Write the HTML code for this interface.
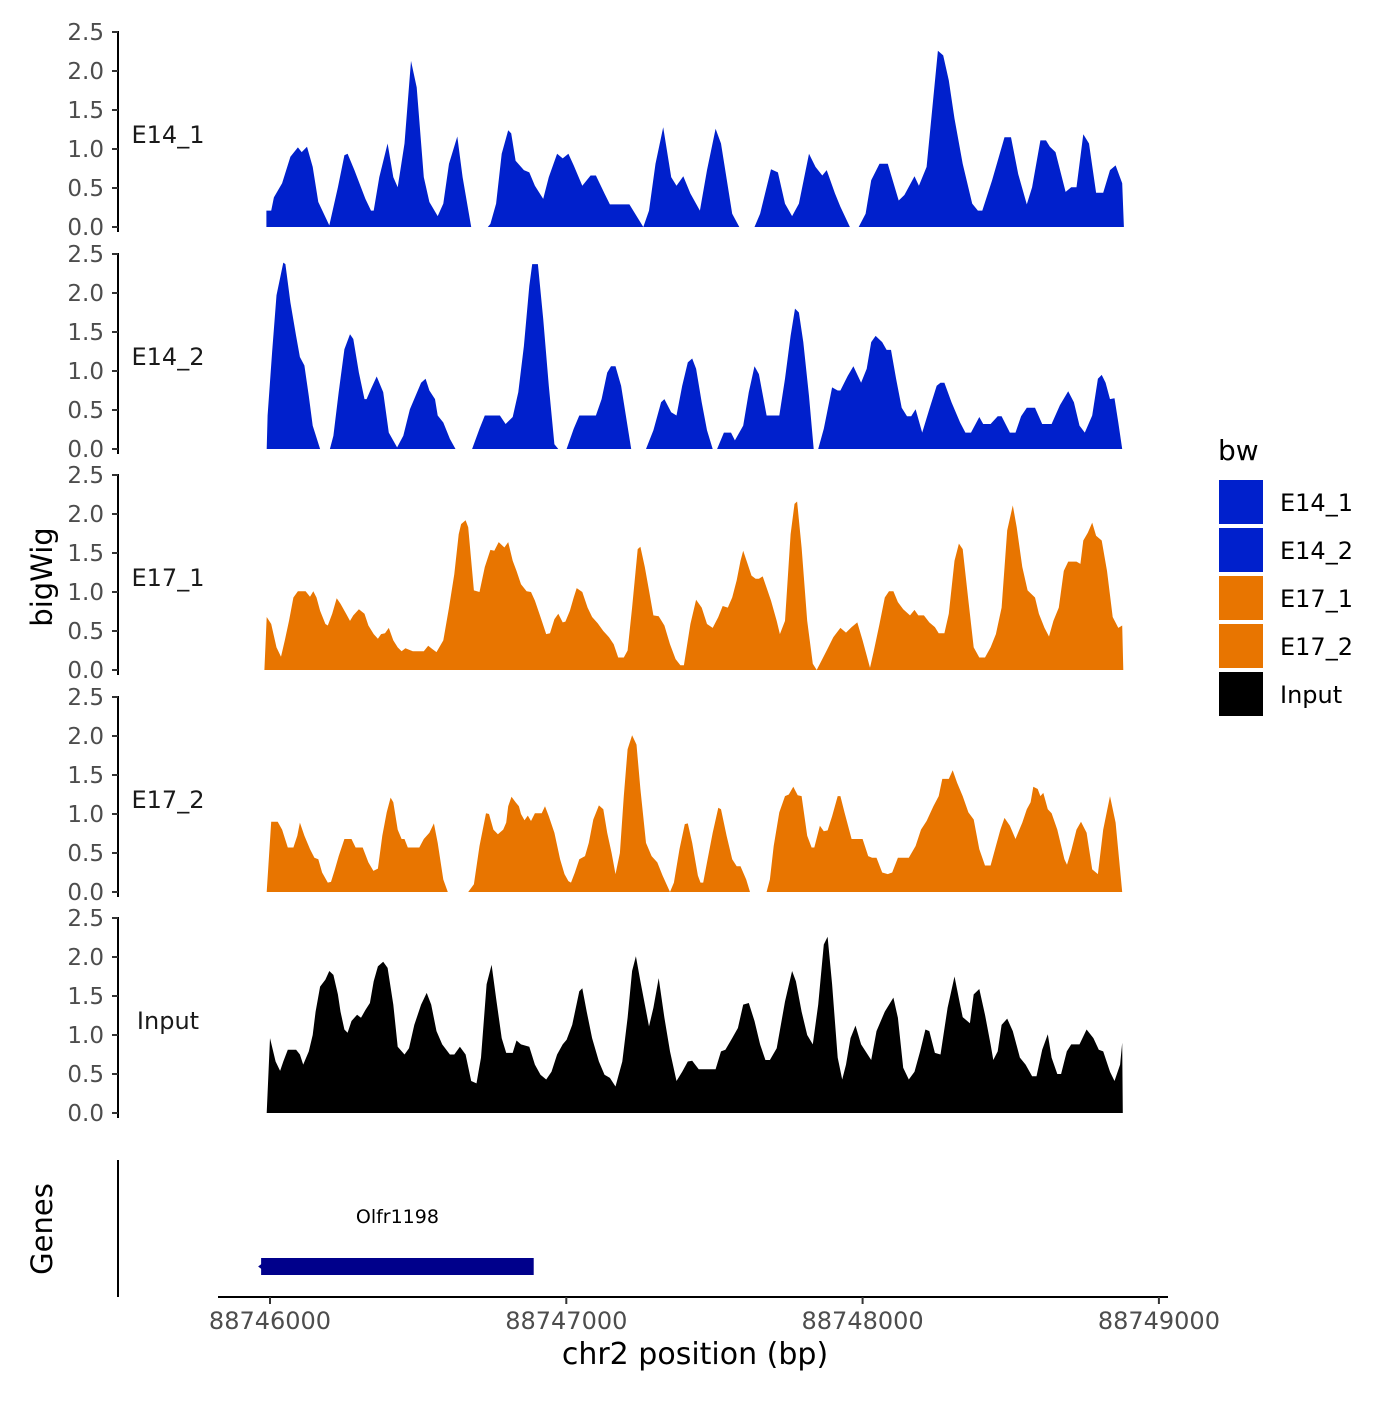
<!DOCTYPE html>
<html><head><meta charset="utf-8"><style>
body{margin:0;background:#fff}
svg text{font-family:"DejaVu Sans","Liberation Sans",sans-serif}
</style></head><body>
<svg id="chart" width="1400" height="1400" viewBox="0 0 1400 1400" xmlns="http://www.w3.org/2000/svg">
<g id="tracks"></g>
<g id="axes"></g>
<text x="0" y="0" transform="translate(52,577) rotate(-90)" text-anchor="middle" font-size="29" fill="#000">bigWig</text>
<text x="0" y="0" transform="translate(52,1229) rotate(-90)" text-anchor="middle" font-size="29" fill="#000">Genes</text>
<line x1="118" y1="1160" x2="118" y2="1297" stroke="#000" stroke-width="2"/>
<g id="genes"></g>
<line x1="218" y1="1297" x2="1168" y2="1297" stroke="#000" stroke-width="2"/>
<g id="xticks"></g>
<text x="695" y="1364" text-anchor="middle" font-size="30" fill="#000">chr2 position (bp)</text>
<text x="1218" y="460" font-size="28" fill="#000">bw</text>
<g id="legend"></g>
</svg>
<script>
const BASE = 88746000;
const trackNames = ["E14_1","E14_2","E17_1","E17_2","Input"];
const trackColors = ["#0020CC","#0020CC","#E87500","#E87500","#000000"];
const yTicks = [0,0.5,1,1.5,2,2.5];
const yTickLabels = ["0.0","0.5","1.0","1.5","2.0","2.5"];
const xTicks = [88746000,88747000,88748000,88749000];
const geneNames = ["Olfr1198"];
const geneStarts = [88745970];
const geneEnds = [88746890];

const posE14_1 = [-12,-12,4,13,41,69,94,107,125,144,163,200,229,251,262,285,322,341,350,369,397,416,431,454,476,495,519,538,566,585,604,632,650,679,690,735,744,763,782,804,814,829,857,875,894,922,941,969,988,1007,1025,1054,1082,1100,1129,1147,1213,1260,1279,1301,1327,1354,1372,1395,1419,1451,1475,1504,1522,1560,1584,1600,1635,1654,1691,1714,1738,1762,1785,1819,1841,1864,1879,1907,1925,1957,1970,1987,2010,2029,2057,2085,2122,2141,2175,2190,2216,2254,2272,2291,2310,2338,2370,2389,2404,2437,2479,2501,2525,2554,2572,2600,2619,2632,2651,2685,2704,2722,2745,2764,2788,2812,2835,2854,2876,2882];
const valE14_1 = [0,0.21,0.21,0.38,0.56,0.9,1.02,0.96,1.03,0.77,0.32,0.02,0.51,0.92,0.94,0.73,0.36,0.21,0.21,0.64,1.07,0.64,0.51,1.07,2.13,1.79,0.64,0.32,0.14,0.3,0.81,1.16,0.64,0,null,0,0.04,0.3,0.94,1.24,1.2,0.85,0.73,0.7,0.53,0.36,0.64,0.94,0.88,0.94,0.79,0.53,0.66,0.66,0.43,0.29,0.29,0,0.21,0.81,1.28,0.64,0.53,0.65,0.43,0.21,0.73,1.26,1.07,0.17,0,null,0,0.17,0.74,0.7,0.3,0.14,0.3,0.94,0.77,0.66,0.73,0.43,0.26,0,null,0,0.17,0.6,0.81,0.81,0.34,0.41,0.65,0.53,0.77,2.26,2.2,1.88,1.39,0.81,0.3,0.21,0.21,0.6,1.15,1.15,0.68,0.29,0.51,1.11,1.11,1.03,0.96,0.45,0.51,0.51,1.19,1.07,0.44,0.44,0.73,0.79,0.56,0];

const posE14_2 = [-11,-8,7,22,45,52,69,88,101,116,131,144,169,190,202,214,232,251,270,281,300,319,326,341,360,382,401,429,450,472,491,510,525,538,557,566,585,607,626,650,682,707,725,776,795,819,838,857,875,885,904,922,941,960,973,990,1001,1025,1044,1100,1119,1138,1151,1166,1185,1219,1240,1269,1294,1320,1331,1354,1372,1391,1410,1425,1438,1457,1475,1494,1500,1509,1532,1556,1569,1597,1616,1635,1650,1676,1719,1738,1757,1772,1785,1800,1819,1835,1842,1850,1869,1897,1916,1925,1950,1969,1995,2014,2029,2044,2066,2081,2096,2113,2132,2150,2164,2179,2201,2225,2250,2263,2276,2300,2329,2347,2366,2394,2407,2432,2456,2469,2497,2516,2535,2554,2582,2606,2638,2666,2694,2713,2732,2750,2775,2794,2807,2820,2835,2850,2863,2876];
const valE14_2 = [0,0.43,1.24,1.97,2.39,2.37,1.88,1.45,1.18,1.07,0.68,0.3,0,null,0,0.17,0.73,1.28,1.47,1.41,0.98,0.64,0.64,0.77,0.93,0.73,0.21,0.02,0.17,0.51,0.68,0.85,0.9,0.75,0.64,0.43,0.34,0.13,0,null,0,0.26,0.43,0.43,0.32,0.41,0.73,1.32,2.09,2.37,2.37,1.67,0.81,0.06,0,null,0,0.26,0.43,0.43,0.64,0.98,1.06,1.06,0.81,0,null,0,0.24,0.6,0.64,0.47,0.43,0.81,1.11,1.16,1.03,0.6,0.24,0,null,0,0.21,0.21,0.11,0.3,0.73,1.06,0.96,0.43,0.43,0.9,1.45,1.8,1.75,1.37,0.68,0,null,0,0.26,0.79,0.75,0.75,0.94,1.06,0.85,1.03,1.37,1.45,1.37,1.27,1.27,0.9,0.53,0.42,0.42,0.51,0.21,0.51,0.81,0.85,0.85,0.6,0.34,0.21,0.21,0.41,0.32,0.32,0.42,0.42,0.21,0.21,0.42,0.53,0.53,0.32,0.32,0.56,0.74,0.6,0.3,0.21,0.43,0.9,0.95,0.85,0.64,0.65,0.34,0];

const posE17_1 = [-19,-11,4,22,37,50,64,79,94,120,135,146,157,169,187,195,210,225,238,257,270,281,300,319,332,350,364,375,388,401,416,431,444,457,482,519,534,547,562,585,604,622,637,645,660,669,688,707,725,744,757,772,791,804,819,832,847,866,881,894,913,932,945,960,973,988,997,1012,1025,1035,1054,1072,1087,1106,1125,1144,1160,1175,1194,1207,1222,1241,1250,1265,1279,1294,1312,1331,1350,1369,1385,1397,1419,1438,1457,1475,1494,1513,1528,1545,1560,1575,1588,1597,1612,1625,1639,1650,1663,1672,1691,1710,1721,1738,1757,1770,1779,1794,1813,1832,1845,1864,1879,1901,1925,1944,1963,1982,2000,2025,2038,2057,2075,2089,2104,2119,2137,2160,2175,2188,2207,2225,2244,2257,2276,2291,2310,2325,2338,2357,2375,2394,2413,2432,2450,2469,2488,2507,2520,2539,2557,2582,2595,2614,2629,2644,2662,2679,2694,2722,2735,2745,2760,2775,2788,2807,2825,2844,2863,2876,2880];
const valE17_1 = [0,0.68,0.59,0.29,0.17,0.38,0.63,0.93,1.01,1.01,0.94,1.01,0.93,0.76,0.59,0.57,0.72,0.92,0.85,0.72,0.63,0.7,0.78,0.72,0.57,0.46,0.4,0.46,0.47,0.54,0.38,0.29,0.24,0.28,0.24,0.24,0.31,0.27,0.23,0.38,0.8,1.23,1.74,1.87,1.92,1.83,1.02,1.0,1.32,1.54,1.53,1.64,1.57,1.64,1.4,1.27,1.1,1.01,1.0,0.89,0.68,0.46,0.47,0.65,0.72,0.61,0.62,0.76,0.93,1.05,1.0,0.8,0.68,0.6,0.5,0.42,0.33,0.16,0.16,0.25,0.8,1.55,1.58,1.32,1.02,0.7,0.69,0.57,0.33,0.14,0.06,0.06,0.59,0.9,0.8,0.59,0.54,0.68,0.82,0.8,0.93,1.15,1.4,1.53,1.36,1.21,1.17,1.17,1.2,1.1,0.89,0.63,0.46,0.63,1.74,2.13,2.16,1.57,0.63,0.08,0,0.14,0.25,0.42,0.54,0.48,0.55,0.61,0.38,0.03,0.25,0.59,0.93,1.01,1.01,0.87,0.78,0.7,0.77,0.7,0.7,0.61,0.55,0.47,0.47,0.72,1.4,1.62,1.55,0.89,0.29,0.16,0.16,0.29,0.46,0.8,1.79,2.11,1.83,1.32,1.02,0.93,0.72,0.54,0.43,0.63,0.8,1.27,1.39,1.39,1.36,1.66,1.76,1.89,1.72,1.66,1.27,0.68,0.54,0.57,0];

const posE17_2 = [-11,-11,4,26,41,60,79,92,101,116,135,150,163,176,195,206,219,232,251,275,289,313,332,349,364,379,394,407,416,431,444,454,465,504,519,538,553,566,585,600,640,669,688,707,729,739,754,769,787,797,804,815,829,840,847,859,870,881,894,917,928,941,960,979,994,1007,1016,1029,1044,1063,1076,1091,1110,1125,1138,1153,1166,1181,1194,1207,1222,1237,1250,1269,1288,1307,1325,1350,1363,1382,1400,1410,1425,1444,1453,1462,1475,1494,1513,1522,1541,1560,1575,1588,1607,1620,1650,1676,1687,1700,1719,1738,1751,1766,1781,1794,1813,1828,1837,1856,1869,1882,1897,1916,1925,1939,1963,2000,2019,2032,2047,2066,2085,2100,2119,2156,2179,2197,2216,2239,2257,2269,2291,2304,2319,2338,2357,2375,2394,2413,2432,2450,2465,2479,2497,2516,2539,2554,2567,2576,2591,2600,2610,2625,2638,2657,2681,2690,2704,2722,2737,2756,2775,2794,2812,2835,2854,2876];
const valE17_2 = [0,0,0.9,0.9,0.8,0.57,0.57,0.72,0.89,0.72,0.55,0.44,0.42,0.25,0.12,0.13,0.29,0.46,0.68,0.68,0.57,0.57,0.38,0.27,0.3,0.72,1.02,1.21,1.15,0.8,0.68,0.68,0.57,0.57,0.68,0.76,0.88,0.63,0.16,0,null,0,0.1,0.59,1.01,1.0,0.8,0.74,0.8,0.89,1.1,1.22,1.15,1.1,1.0,0.92,0.98,0.91,1.01,1.01,1.1,0.97,0.76,0.42,0.23,0.14,0.12,0.25,0.42,0.46,0.63,0.93,1.11,1.06,0.76,0.5,0.23,0.5,1.23,1.83,2.01,1.89,1.32,0.63,0.46,0.38,0.21,0,0.12,0.55,0.87,0.88,0.63,0.21,0.12,0.12,0.38,0.76,1.08,1.06,0.72,0.42,0.33,0.33,0.16,0,null,0,0.16,0.59,1.02,1.23,1.25,1.35,1.24,1.23,0.72,0.57,0.57,0.85,0.78,0.79,0.97,1.23,1.23,1.02,0.68,0.68,0.46,0.44,0.44,0.25,0.23,0.25,0.44,0.44,0.59,0.8,0.91,1.1,1.23,1.45,1.45,1.56,1.4,1.23,1.02,0.93,0.55,0.34,0.34,0.59,0.8,0.95,0.85,0.68,0.89,1.06,1.15,1.35,1.32,1.23,1.27,1.06,1.01,0.8,0.42,0.35,0.53,0.8,0.9,0.76,0.29,0.23,0.8,1.23,0.89,0];

const posInput = [-11,0,19,34,45,60,88,101,112,131,144,154,169,187,200,214,229,238,251,262,275,294,307,322,337,350,364,382,397,416,431,454,469,487,510,529,544,562,581,607,622,641,660,679,697,712,731,748,763,782,797,819,832,847,875,894,913,932,950,969,988,1001,1020,1044,1054,1069,1087,1110,1129,1147,1166,1189,1207,1222,1235,1250,1279,1294,1312,1331,1350,1372,1391,1410,1425,1447,1504,1522,1537,1560,1579,1597,1616,1635,1654,1672,1687,1710,1738,1762,1775,1794,1813,1832,1850,1869,1882,1897,1916,1931,1944,1959,1976,1995,2029,2047,2075,2104,2119,2137,2156,2175,2194,2212,2225,2244,2263,2287,2310,2329,2338,2362,2375,2394,2413,2432,2441,2456,2469,2488,2507,2531,2550,2572,2587,2606,2625,2638,2657,2670,2689,2704,2732,2756,2779,2797,2812,2835,2850,2869,2876,2878];
const valInput = [0,0.96,0.66,0.54,0.66,0.81,0.81,0.75,0.62,0.79,1.0,1.3,1.62,1.71,1.82,1.77,1.52,1.3,1.07,1.03,1.18,1.26,1.22,1.32,1.41,1.69,1.88,1.94,1.86,1.39,0.85,0.75,0.83,1.13,1.39,1.54,1.39,1.05,0.88,0.75,0.75,0.85,0.75,0.41,0.38,0.71,1.65,1.9,1.47,0.96,0.77,0.77,0.93,0.88,0.85,0.62,0.49,0.43,0.53,0.75,0.88,0.94,1.13,1.56,1.6,1.3,0.96,0.66,0.49,0.45,0.34,0.66,1.22,1.82,2.01,1.69,1.11,1.35,1.73,1.22,0.79,0.41,0.53,0.66,0.67,0.56,0.56,0.79,0.81,0.96,1.09,1.39,1.41,1.18,0.88,0.68,0.68,0.83,1.43,1.82,1.69,1.3,1.0,0.88,1.39,2.16,2.26,1.65,0.71,0.43,0.62,0.96,1.12,0.88,0.68,1.05,1.3,1.48,1.22,0.58,0.43,0.53,0.79,1.07,1.05,0.77,0.75,1.35,1.75,1.39,1.23,1.15,1.52,1.59,1.26,0.88,0.68,0.79,1.13,1.21,1.05,0.71,0.62,0.47,0.47,0.81,1.01,0.71,0.5,0.5,0.79,0.88,0.88,1.07,0.96,0.81,0.79,0.53,0.41,0.62,0.9,0];

const trackPos = [posE14_1,posE14_2,posE17_1,posE17_2,posInput];
const trackVal = [valE14_1,valE14_2,valE17_1,valE17_2,valInput];

const NS = "http://www.w3.org/2000/svg";
const baselines = [227,449,670,892,1113];
const unit = 78;
function xScale(bp){ return 270 + (bp - 88746000) * 0.2963; }
function yScale(i, v){ return baselines[i] - v * unit; }
function mk(tag, attrs){ const e=document.createElementNS(NS,tag); for(const k in attrs) e.setAttribute(k,attrs[k]); return e; }

const tracksG = document.getElementById('tracks');
const axesG = document.getElementById('axes');
trackNames.forEach((name, i) => {
  const pos = trackPos[i], val = trackVal[i];
  let d = "", seg = [];
  const flush = () => {
    if (seg.length) {
      d += "M" + seg[0][0].toFixed(1) + "," + baselines[i];
      seg.forEach(p => { d += "L" + p[0].toFixed(1) + "," + p[1].toFixed(1); });
      d += "L" + seg[seg.length-1][0].toFixed(1) + "," + baselines[i] + "Z";
    }
    seg = [];
  };
  for (let k = 0; k < pos.length; k++) {
    if (val[k] === null) { flush(); continue; }
    seg.push([xScale(BASE + pos[k]), yScale(i, val[k])]);
  }
  flush();
  const path = mk('path', {d: d, fill: trackColors[i]});
  
  
  tracksG.appendChild(path);

  const ax = mk('line', {x1:118, y1:yScale(i,2.5)-1, x2:118, y2:baselines[i]+5, stroke:'#000', 'stroke-width':2});
  
  
  axesG.appendChild(ax);
  yTicks.forEach((t, j) => {
    const y = yScale(i, t);
    const tk = mk('line', {x1:112, y1:y, x2:118, y2:y, stroke:'#333', 'stroke-width':2});
    
    
    axesG.appendChild(tk);
    const lb = mk('text', {x:104, y:y+8, 'text-anchor':'end', 'font-size':23, fill:'#4d4d4d'});
    lb.textContent = yTickLabels[j];
    
    
    axesG.appendChild(lb);
  });
  const tl = mk('text', {x:168, y:baselines[i]-84, 'text-anchor':'middle', 'font-size':24, fill:'#1a1a1a'});
  tl.textContent = name;
  
  
  axesG.appendChild(tl);
});

const xg = document.getElementById('xticks');
xTicks.forEach(t => {
  const x = xScale(t);
  const tk = mk('line', {x1:x, y1:1297, x2:x, y2:1304, stroke:'#333', 'stroke-width':2});
  
  
  xg.appendChild(tk);
  const lb = mk('text', {x:x, y:1329, 'text-anchor':'middle', 'font-size':24, fill:'#4d4d4d'});
  lb.textContent = String(t);
  
  
  xg.appendChild(lb);
});

const gg = document.getElementById('genes');
geneNames.forEach((g, i) => {
  const x1 = xScale(geneStarts[i]), x2 = xScale(geneEnds[i]);
  const r = mk('rect', {x:x1, y:1258, width:x2-x1, height:17, fill:'#00008B'});
  
  
  gg.appendChild(r);
  const a = mk('path', {d:`M${x1-3},1266.5 L${x1+3},1262 L${x1+3},1271 Z`, fill:'#00008B'});
  
  
  gg.appendChild(a);
  const t = mk('text', {x:(x1+x2)/2, y:1223, 'text-anchor':'middle', 'font-size':19, fill:'#000'});
  t.textContent = g;
  
  
  gg.appendChild(t);
});

const lg = document.getElementById('legend');
trackNames.forEach((name, i) => {
  const y = 480 + i * 48;
  const r = mk('rect', {x:1219, y:y, width:44, height:44, fill:trackColors[i]});
  
  
  lg.appendChild(r);
  const t = mk('text', {x:1280, y:y+31, 'font-size':24, fill:'#000'});
  t.textContent = name;
  
  
  lg.appendChild(t);
});
</script>
</body></html>
